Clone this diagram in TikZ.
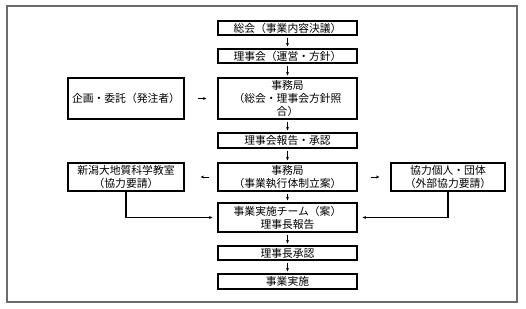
\documentclass[tikz,border=0pt]{standalone}
\usepackage{fontspec}
\setmainfont{Noto Sans CJK JP}
\usetikzlibrary{arrows.meta}
\begin{document}
\begin{tikzpicture}[x=1pt,y=-1pt,
  box/.style={draw=black,line width=1.2pt,inner sep=0pt,align=center,
    font=\fontsize{10.8}{13}\selectfont},
  cbox/.style={box,minimum width=139pt},
  sbox/.style={box,minimum width=116pt},
  arr/.style={line width=0.6pt,-{Stealth[length=3.5pt,width=3pt]}},
  frame/.style={draw=black!58,line width=1.5pt}]
\useasboundingbox (0,0) rectangle (526,308);
\draw[frame] (7,6) rectangle (517,302);
\node[cbox,minimum height=14pt] (b1) at (287.5,28) {総会（事業内容決議）};
\node[cbox,minimum height=14pt] (b2) at (287.5,56) {理事会（運営・方針）};
\node[cbox,minimum height=41pt] (b3) at (287.5,98.5) {事務局\\（総会・理事会方針照\\合）};
\node[cbox,minimum height=15pt] (b4) at (287.5,140.5) {理事会報告・承認};
\node[cbox,minimum height=28pt] (b5) at (287.5,177) {事務局\\（事業執行体制立案）};
\node[cbox,minimum height=29pt] (b6) at (287.5,217.5) {事業実施チーム（案）\\理事長報告};
\node[cbox,minimum height=14pt] (b7) at (287.5,253) {理事長承認};
\node[cbox,minimum height=15pt] (b8) at (287.5,281.5) {事業実施};
\node[sbox,minimum height=41pt] (l1) at (126,98.5) {企画・委託（発注者）};
\node[sbox,minimum height=28pt] (l2) at (126,177) {新潟大地質科学教室\\（協力要請）};
\node[box,minimum width=114pt,minimum height=28pt] (r1) at (448,177) {協力個人・団体\\（外部協力要請）};
\draw[arr,shorten <=2pt,shorten >=2pt] (b1) -- (b2);
\draw[arr,shorten <=2pt,shorten >=2pt] (b2) -- (b3);
\draw[arr,shorten <=2pt,shorten >=2pt] (b3) -- (b4);
\draw[arr,shorten <=2pt,shorten >=2pt] (b4) -- (b5);
\draw[arr,shorten <=2pt,shorten >=2pt] (b5) -- (b6);
\draw[arr,shorten <=2pt,shorten >=2pt] (b6) -- (b7);
\draw[arr,shorten <=2pt,shorten >=2pt] (b7) -- (b8);
\draw[arr,shorten <=13pt,shorten >=11pt] (l1) -- (b3);
\draw[arr,shorten <=8pt,shorten >=16pt] (b5) -- (l2);
\draw[arr,shorten <=13pt,shorten >=11pt] (b5) -- (r1);
\draw[arr,line width=1.2pt,shorten >=5pt] (l2.south) |- (b6.west);
\draw[arr,line width=1.2pt,shorten >=5pt] (r1.south) |- (b6.east);
\end{tikzpicture}
\end{document}
